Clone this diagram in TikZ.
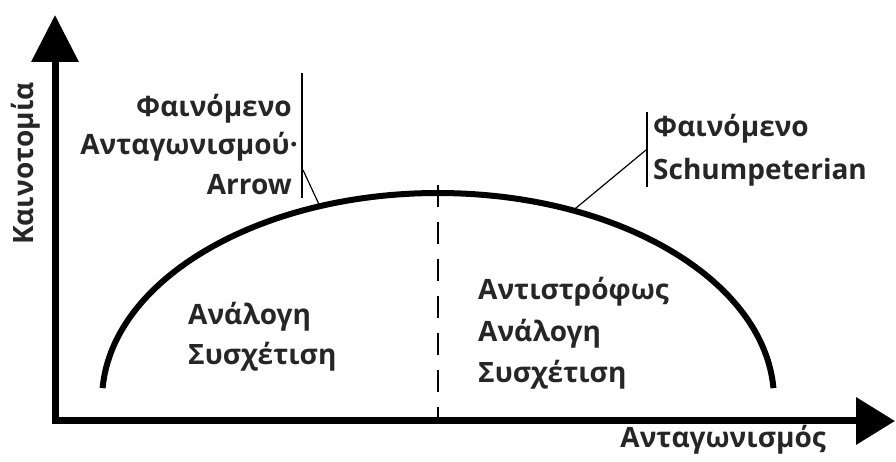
\documentclass[tikz,border=0pt]{standalone}
\usepackage{fontspec}
\setmainfont{Open Sans}
\usetikzlibrary{arrows.meta}
\begin{document}
\begin{tikzpicture}[x=1pt,y=1pt,
  lbl/.style={inner sep=0pt, font=\fontsize{28}{34}\selectfont\bfseries, text=black!85},
  axis/.style={line width=7pt, miter limit=10},
  curveline/.style={line width=6pt},
  thin/.style={line width=1.2pt},
  midline/.style={line width=2pt, dash pattern=on 22pt off 15pt}]
\fill[white] (0,0) rectangle (896,462);
\useasboundingbox (0,0) rectangle (896,462);
% axes
\coordinate (ytip) at (55,447);
\coordinate (origin) at (55,41);
\coordinate (xtip) at (895,41);
\draw[axis, {Triangle[width=46pt,length=47pt]}-{Triangle[width=46pt,length=39pt]}] (ytip) -- (origin) -- (xtip);
% arc
\coordinate (arcstart) at (102.6,73.9);
\draw[curveline] (arcstart) arc[start angle=176.7, end angle=3.3, x radius=336, y radius=207];
% dashed middle line
\coordinate (mtop) at (438,277);
\coordinate (mbot) at (438,42);
\draw[midline] (mtop) -- (mbot);
% left callout
\coordinate (lvt) at (302,389);
\coordinate (lvb) at (302,264);
\coordinate (lvc) at (303,292);
\coordinate (cl) at (320,255.5);
\draw[thin] (lvt) -- (lvb);
\draw[thin] (lvc) -- (cl);
% right callout
\coordinate (rvt) at (647,350);
\coordinate (rvb) at (647,275);
\coordinate (rvc) at (646,312);
\coordinate (cr) at (573,251.5);
\draw[thin] (rvt) -- (rvb);
\draw[thin] (rvc) -- (cr);
% texts
\node[lbl, anchor=base east] (l1) at (292,345) {Φαινόμενο};
\node[lbl, anchor=base east] (l2) at (298,307) {Ανταγωνισμού·};
\node[lbl, anchor=base east] (l3) at (292,267) {Arrow};
\node[lbl, anchor=base west] (r1) at (653,325) {Φαινόμενο};
\node[lbl, anchor=base west] (r2) at (653,282) {Schumpeterian};
\node[lbl, anchor=base west] (a1) at (188,137) {Ανάλογη};
\node[lbl, anchor=base west] (a2) at (188,97) {Συσχέτιση};
\node[lbl, anchor=base west] (b1) at (478,162) {Αντιστρόφως};
\node[lbl, anchor=base west] (b2) at (478,120) {Ανάλογη};
\node[lbl, anchor=base west] (b3) at (478,79) {Συσχέτιση};
\node[lbl, anchor=base east] (xl) at (826,14) {Ανταγωνισμός};
\node[lbl, anchor=base, rotate=90] (yl) at (33,298.5) {Καινοτομία};
\end{tikzpicture}
\end{document}
